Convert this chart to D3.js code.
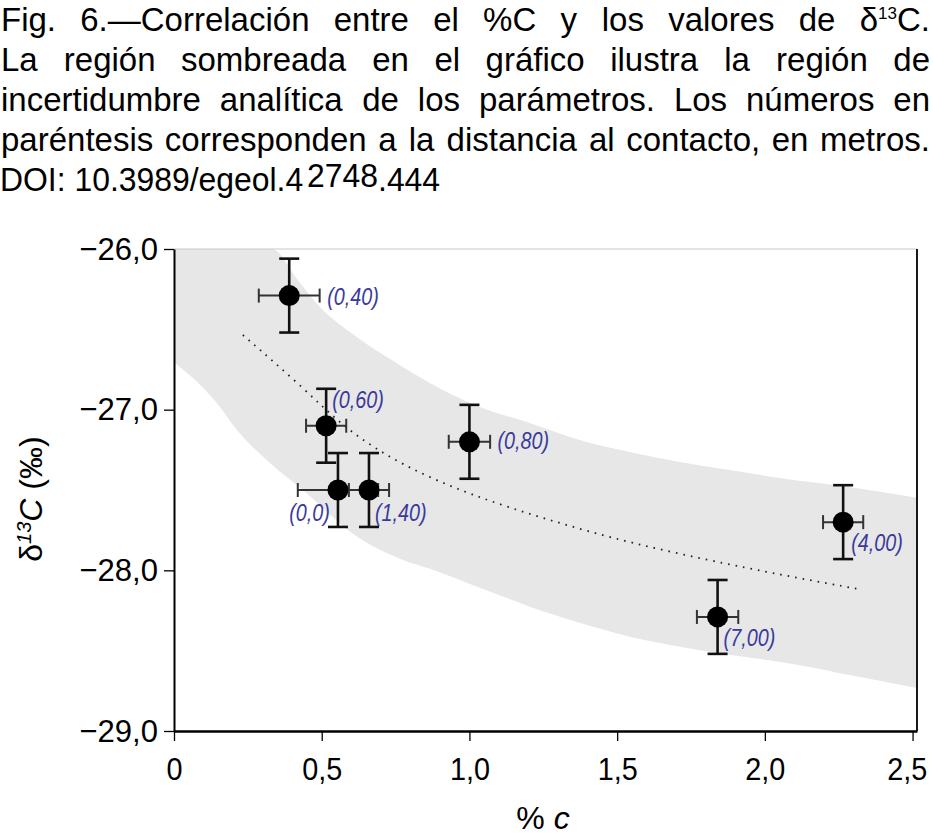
<!doctype html>
<html lang="es">
<head>
<meta charset="utf-8">
<title>Correlación entre el %C y los valores de δ13C</title>
<script src="https://d3js.org/d3.v7.min.js"></script>
<style>
body { margin: 0; background: #fff; }
svg { display: block; }
text { font-family: 'Liberation Sans', Arial, sans-serif; fill: #000; }
.caption text { font-size: 33px; }
.axis text { font-size: 32px; font-family: 'Liberation Sans', Arial, sans-serif; fill: #000; }
.axis path, .axis line { stroke: #000; }
.title { font-size: 32px; }
.ptlabel {
  font-family: 'Liberation Sans', sans-serif;
  font-style: italic;
  font-size: 23px;
  fill: #3a3a9c;
}
</style>
</head>
<body>
<svg id="chart" width="933" height="837"></svg>
<script>
// caption, ^...^ marks a superscript
const captionLines = [
  'Fig. 6.—Correlación entre el %C y los valores de δ^13^C.',
  'La región sombreada en el gráfico ilustra la región de',
  'incertidumbre analítica de los parámetros. Los números en',
  'paréntesis corresponden a la distancia al contacto, en metros.'
];
const doiParts = ['DOI: 10.3989/egeol.4', '2748', '.444'];

// samples: distance to contact, %C, δ13C and their errors
const distLabels = ['(0,40)', '(0,60)', '(0,0)', '(1,40)', '(0,80)', '(7,00)', '(4,00)'];
const pctC = [0.39, 0.515, 0.555, 0.66, 1.0, 1.84, 2.265];
const d13C = [-26.29, -27.1, -27.5, -27.5, -27.2, -28.29, -27.7];
const errC = [0.103, 0.068, 0.136, 0.068, 0.07, 0.07, 0.068];
const errD = [0.23, 0.23, 0.23, 0.23, 0.23, 0.23, 0.23];

// dotted trend
const trendX = [0.233, 0.436, 0.585, 0.775, 1.001, 1.272, 1.543, 1.881, 2.118, 2.327];
const trendY = [-26.535, -26.86, -27.13, -27.35, -27.53, -27.69, -27.83, -27.965, -28.05, -28.12];

// shaded uncertainty region edges
const bandUpperX = [0, 0.332, 0.419, 0.494, 0.619, 0.775, 0.866, 1.035, 1.204, 1.373, 1.543, 1.712, 1.881, 2.05, 2.287, 2.515];
const bandUpperY = [-26, -26.0, -26.193, -26.361, -26.548, -26.734, -26.834, -26.983, -27.083, -27.189, -27.263, -27.325, -27.375, -27.425, -27.481, -27.549];
const bandLowerX = [0, 0.145, 0.213, 0.325, 0.436, 0.619, 0.775, 0.866, 1.035, 1.204, 1.373, 1.543, 1.712, 1.881, 2.118, 2.287, 2.515];
const bandLowerY = [-26.703, -26.958, -27.126, -27.332, -27.5, -27.79, -27.935, -27.99, -28.108, -28.226, -28.326, -28.413, -28.475, -28.525, -28.59, -28.652, -28.732];

const xTicks = [0, 0.5, 1, 1.5, 2, 2.5];
const xTickLabels = ['0', '0,5', '1,0', '1,5', '2,0', '2,5'];
const yTicks = [-26, -27, -28, -29];
const yTickLabels = ['−26,0', '−27,0', '−28,0', '−29,0'];

// label placement (pixels from the point)
const labelDx = [38, 6, -8, 6, 28, 6, 8];
const labelDy = [9, -18, 31, 31, 7, 29, 29];
const labelAnchor = ['start', 'start', 'end', 'start', 'start', 'start', 'start'];

const svg = d3.select('#chart');

const plotL = 174, plotR = 917, plotT = 249, plotB = 731;

const x = d3.scaleLinear().domain([0, 2.515]).range([plotL, plotR]);
const y = d3.scaleLinear().domain([-29, -26]).range([plotB, plotT]);

// squeeze glyphs horizontally, the original uses a condensed face
function condense(sel, k) {
  sel.each(function () {
    const w = this.getComputedTextLength();
    d3.select(this).attr('textLength', w * k).attr('lengthAdjust', 'spacingAndGlyphs');
  });
}

// ---- caption
const cap = svg.append('g').attr('class', 'caption');

function addRich(sel, str) {
  str.split('^').forEach((seg, i) => {
    if (!seg) return;
    if (i % 2 === 1) {
      sel.append('tspan').attr('font-size', 17).attr('dy', -12).text(seg);
    } else {
      const t = sel.append('tspan').text(seg);
      if (i > 0) t.attr('dy', 12);
    }
  });
}

captionLines.forEach((ln, li) => {
  const yy = 31 + li * 40;
  const words = ln.split(' ');
  const nodes = words.map(w => {
    const t = cap.append('text').attr('y', yy);
    addRich(t, w);
    return t;
  });
  const widths = nodes.map(n => n.node().getBBox().width);
  const total = d3.sum(widths);
  const gap = (930 - 1 - total) / (words.length - 1);
  let xx = 1;
  nodes.forEach((n, i) => {
    n.attr('x', xx);
    xx += widths[i] + gap;
  });
});

const doi = cap.append('text').attr('x', 0).attr('y', 191);
doi.append('tspan').text(doiParts[0]);
doi.append('tspan').attr('dx', 4).attr('dy', -4).text(doiParts[1]);
doi.append('tspan').attr('dy', 4).text(doiParts[2]);
condense(doi, 0.975);

// ---- plot
svg.append('clipPath').attr('id', 'plotclip')
  .append('rect')
  .attr('x', plotL).attr('y', plotT)
  .attr('width', plotR - plotL).attr('height', plotB - plotT);

const upper = bandUpperX.map((v, i) => [v, bandUpperY[i]]);
const lower = bandLowerX.map((v, i) => [v, bandLowerY[i]]);
const line = d3.line().x(d => x(d[0])).y(d => y(d[1])).curve(d3.curveMonotoneX);
const smooth = d3.line().x(d => x(d[0])).y(d => y(d[1])).curve(d3.curveBasis);

const lowerRev = lower.slice().reverse();
const bandPath = line(upper) + 'L' + line(lowerRev).slice(1) + 'Z';
svg.append('path')
  .attr('clip-path', 'url(#plotclip)')
  .attr('d', bandPath)
  .attr('fill', '#e7e7e7');

// top frame and right frame
svg.append('line')
  .attr('x1', plotL).attr('x2', plotR).attr('y1', plotT).attr('y2', plotT)
  .attr('stroke', '#c8c8c8').attr('stroke-width', 1);
svg.append('line')
  .attr('x1', plotR).attr('x2', plotR).attr('y1', plotT).attr('y2', plotB)
  .attr('stroke', '#000').attr('stroke-width', 1.8);

// trend line
svg.append('path')
  .attr('d', smooth(trendX.map((v, i) => [v, trendY[i]])))
  .attr('fill', 'none')
  .attr('stroke', '#222')
  .attr('stroke-width', 1.8)
  .attr('stroke-dasharray', '1.6 6');

// axes
const yAxis = svg.append('g')
  .attr('class', 'axis')
  .attr('transform', `translate(${plotL},0)`)
  .call(d3.axisLeft(y).tickValues(yTicks).tickSize(10).tickSizeOuter(0).tickPadding(6)
    .tickFormat((d, i) => yTickLabels[i]));
yAxis.select('.domain').attr('stroke-width', 2);
yAxis.selectAll('.tick line').attr('stroke-width', 1.3);
condense(yAxis.selectAll('.tick text'), 0.97);

const xAxis = svg.append('g')
  .attr('class', 'axis')
  .attr('transform', `translate(0,${plotB})`)
  .call(d3.axisBottom(x).tickValues(xTicks).tickSize(10).tickSizeOuter(0).tickPadding(16)
    .tickFormat((d, i) => xTickLabels[i]));
xAxis.select('.domain').attr('stroke-width', 2.6);
xAxis.selectAll('.tick line').attr('stroke-width', 1.3);
// keep the last label inside the page, measured before squeezing
xAxis.selectAll('.tick').each(function (d) {
  const t = d3.select(this).select('text');
  const half = this.querySelector('text').getComputedTextLength() / 2;
  const over = x(d) + half - 929;
  if (over > 0) t.attr('x', -over);
});
condense(xAxis.selectAll('.tick text'), 0.9);

// error bars
const pts = pctC.map((v, i) => ({
  x: v, y: d13C[i], ex: errC[i], ey: errD[i],
  label: distLabels[i], dx: labelDx[i], dy: labelDy[i], anchor: labelAnchor[i]
}));

const eb = svg.append('g');
pts.forEach(p => {
  const cx = x(p.x), cy = y(p.y);
  const x0 = x(p.x - p.ex), x1 = x(p.x + p.ex);
  const y0 = y(p.y + p.ey), y1 = y(p.y - p.ey);
  const g = eb.append('g');
  g.append('line').attr('x1', x0).attr('x2', x1).attr('y1', cy).attr('y2', cy)
    .attr('stroke', '#333').attr('stroke-width', 2);
  [x0, x1].forEach(xx => g.append('line')
    .attr('x1', xx).attr('x2', xx).attr('y1', cy - 7).attr('y2', cy + 7)
    .attr('stroke', '#333').attr('stroke-width', 2));
  g.append('line').attr('x1', cx).attr('x2', cx).attr('y1', y0).attr('y2', y1)
    .attr('stroke', '#111').attr('stroke-width', 2.6);
  [y0, y1].forEach(yy => g.append('line')
    .attr('x1', cx - 10).attr('x2', cx + 10).attr('y1', yy).attr('y2', yy)
    .attr('stroke', '#111').attr('stroke-width', 2.6));
});

svg.append('g').selectAll('circle')
  .data(pts)
  .join('circle')
  .attr('cx', d => x(d.x))
  .attr('cy', d => y(d.y))
  .attr('r', 10.5)
  .attr('fill', '#000');

const lbl = svg.append('g').selectAll('text')
  .data(pts)
  .join('text')
  .attr('class', 'ptlabel')
  .attr('x', d => x(d.x) + d.dx)
  .attr('y', d => y(d.y) + d.dy)
  .attr('text-anchor', d => d.anchor)
  .text(d => d.label);
condense(lbl, 0.86);

// axis titles
const yt = svg.append('text')
  .attr('class', 'title')
  .attr('transform', 'translate(42,499) rotate(-90)')
  .attr('text-anchor', 'middle');
yt.append('tspan').text('δ');
yt.append('tspan').attr('font-style', 'italic').attr('font-size', 20).attr('dy', -11).text('13');
yt.append('tspan').attr('font-style', 'italic').attr('dy', 11).text('C');
yt.append('tspan').text(' (‰)');

const xt = svg.append('text')
  .attr('class', 'title')
  .attr('x', 543)
  .attr('y', 829)
  .attr('text-anchor', 'middle');
xt.append('tspan').text('% ');
xt.append('tspan').attr('font-style', 'italic').text('c');
</script>
</body>
</html>
